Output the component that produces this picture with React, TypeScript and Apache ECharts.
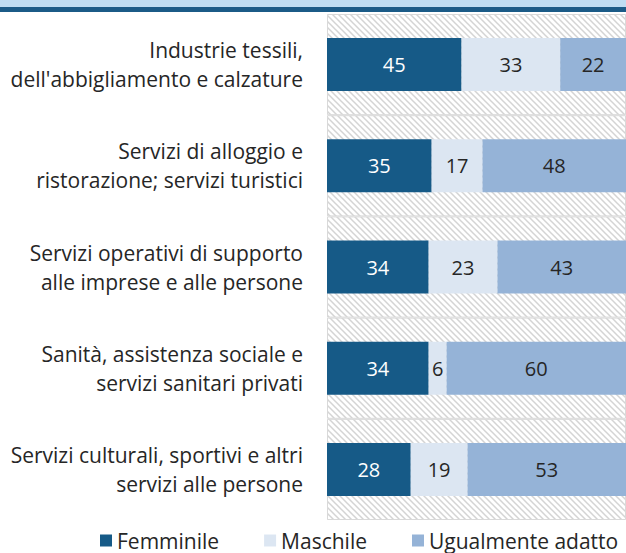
import React, { useEffect, useRef } from "react";
import * as echarts from "echarts";

const categories = [
  "Industrie tessili,\ndell'abbigliamento e calzature",
  "Servizi di alloggio e\nristorazione; servizi turistici",
  "Servizi operativi di supporto\nalle imprese e alle persone",
  "Sanità, assistenza sociale e\nservizi sanitari privati",
  "Servizi culturali, sportivi e altri\nservizi alle persone",
];
const femminile = [45, 35, 34, 34, 28];
const maschile = [33, 17, 23, 6, 19];
const ugualmente = [22, 48, 43, 60, 53];
const background = [100, 100, 100, 100, 100];

const FONT = "'Open Sans', sans-serif";

function makeHatch(): string {
  const c = document.createElement("canvas");
  const s = 6;
  c.width = s;
  c.height = s;
  const ctx = c.getContext("2d")!;
  ctx.fillStyle = "#ffffff";
  ctx.fillRect(0, 0, s, s);
  ctx.strokeStyle = "#d4d4d4";
  ctx.lineWidth = 1.5;
  ctx.beginPath();
  ctx.moveTo(-s, -s);
  ctx.lineTo(2 * s, 2 * s);
  ctx.moveTo(-2 * s, -s);
  ctx.lineTo(s, 2 * s);
  ctx.moveTo(0, -s);
  ctx.lineTo(3 * s, 2 * s);
  ctx.stroke();
  return c.toDataURL();
}

export default function App() {
  const ref = useRef<HTMLDivElement>(null);
  useEffect(() => {
    if (!ref.current) return;
    const chart = echarts.init(ref.current, undefined, { renderer: "svg" });
    const hatch = makeHatch();
    const labelBase = {
      show: true,
      position: "inside" as const,
      fontFamily: FONT,
      fontSize: 20,
    };
    chart.setOption({
      animation: false,
      backgroundColor: "#ffffff",
      graphic: [
        { type: "rect", z: 10, shape: { x: 0, y: 0, width: 626, height: 7 }, style: { fill: "#bfddf2" } },
        { type: "rect", z: 10, shape: { x: 0, y: 7, width: 626, height: 5 }, style: { fill: "#1b5b87" } },
      ],
      legend: {
        left: 100,
        top: 530,
        width: 620,
        padding: 0,
        icon: "rect",
        itemWidth: 12,
        itemHeight: 12,
        itemGap: 45,
        textStyle: { fontFamily: FONT, fontSize: 21, color: "#262626" },
        data: ["Femminile", "Maschile", "Ugualmente adatto"],
      },
      grid: { left: 327, right: 0, top: 14, bottom: 33, containLabel: false },
      xAxis: [
        { type: "value", min: 0, max: 100, show: false },
        { type: "value", min: 0, max: 100, show: false },
      ],
      yAxis: [
        {
          type: "category",
          data: categories,
          inverse: true,
          axisLine: { show: false },
          axisTick: { show: false },
          axisLabel: {
            margin: 24,
            fontFamily: FONT,
            fontSize: 21,
            lineHeight: 29,
            color: "#262626",
            align: "right",
          },
        },
        {
          type: "category",
          data: categories,
          inverse: true,
          show: false,
        },
      ],
      series: [
        {
          name: "bg",
          type: "bar",
          xAxisIndex: 1,
          yAxisIndex: 1,
          data: background,
          barWidth: "100%",
          silent: true,
          z: 0,
          itemStyle: {
            color: { image: hatch, repeat: "repeat" },
            borderColor: "#d9d9d9",
            borderWidth: 1,
          },
          label: { show: false },
        },
        {
          name: "Femminile",
          type: "bar",
          stack: "tot",
          data: femminile,
          barWidth: 53,
          z: 2,
          itemStyle: { color: "#165a87" },
          label: { ...labelBase, color: "#ffffff" },
        },
        {
          name: "Maschile",
          type: "bar",
          stack: "tot",
          data: maschile,
          barWidth: 53,
          z: 2,
          itemStyle: { color: "#dce6f2" },
          label: { ...labelBase, color: "#262626" },
        },
        {
          name: "Ugualmente adatto",
          type: "bar",
          stack: "tot",
          data: ugualmente,
          barWidth: 53,
          z: 2,
          itemStyle: { color: "#95b3d7" },
          label: { ...labelBase, color: "#262626" },
        },
      ],
    });
    return () => chart.dispose();
  }, []);
  return <div ref={ref} style={{ width: 626, height: 553, position: "absolute", left: 0, top: 0 }} />;
}
